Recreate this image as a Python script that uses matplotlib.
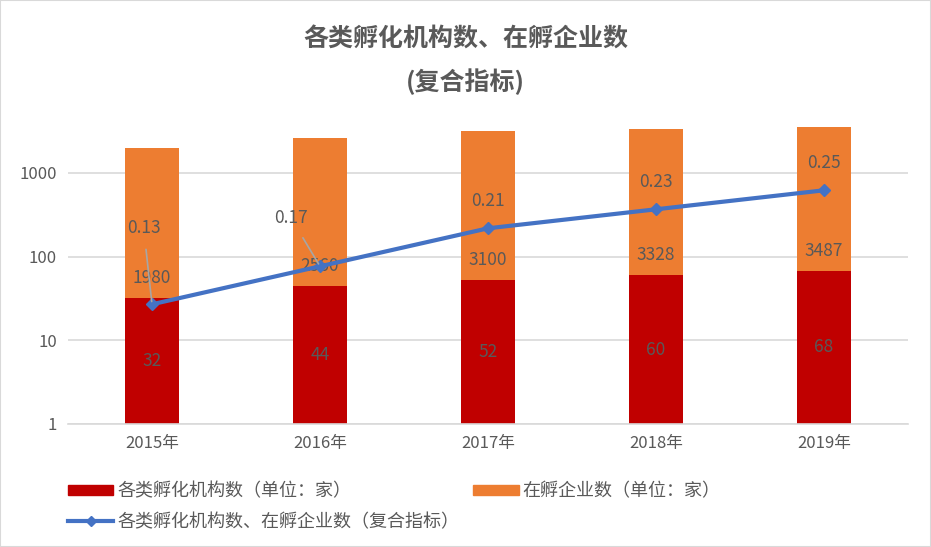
import matplotlib
matplotlib.use("Agg")
import matplotlib.pyplot as plt
import numpy as np
from matplotlib.patches import Rectangle
from matplotlib.lines import Line2D

plt.rcParams["font.family"] = ["Noto Sans CJK SC", "DejaVu Sans"]

years = ["2015年", "2016年", "2017年", "2018年", "2019年"]
institutions = [32, 44, 52, 60, 68]
enterprises = [1980, 2560, 3100, 3328, 3487]
composite = [0.13, 0.17, 0.21, 0.23, 0.25]

RED = "#C00000"
ORANGE = "#ED7D31"
BLUE = "#4472C4"
GRAY = "#595959"

fig = plt.figure(figsize=(9.31, 5.47), dpi=100)
fig.patches.append(Rectangle((0, 0), 1, 1, transform=fig.transFigure,
                             fill=False, edgecolor="#D9D9D9", linewidth=1.5))

ax = fig.add_axes([68 / 931, 1 - 424 / 547, 840 / 931, 332.5 / 547])
x = np.arange(len(years))

ax.bar(x, institutions, width=0.32, bottom=0, color=RED, zorder=2)
ax.bar(x, enterprises, width=0.32, bottom=institutions, color=ORANGE, zorder=2)
ax.set_yscale("log")
ax.set_ylim(1, 9400)
ax.set_xlim(-0.5, len(years) - 0.5)
ax.set_yticks([1, 10, 100, 1000])
ax.set_yticklabels(["1", "10", "100", "1000"])
ax.minorticks_off()
ax.set_xticks(x)
ax.set_xticklabels(years)
ax.tick_params(length=0, labelsize=12, labelcolor=GRAY, pad=8)
ax.grid(axis="y", color="#D9D9D9", linewidth=1.2, zorder=0)
for s in ["top", "left", "right"]:
    ax.spines[s].set_visible(False)
ax.spines["bottom"].set_color("#D9D9D9")
ax.spines["bottom"].set_linewidth(1.2)

for i in range(len(years)):
    ax.text(x[i], np.sqrt(institutions[i]), str(institutions[i]),
            ha="center", va="center", fontsize=12.5, color=GRAY, zorder=3)
    ax.annotate(str(enterprises[i]), (x[i], institutions[i]),
                xytext=(0, 14.5), textcoords="offset points",
                ha="center", va="center", fontsize=12.5, color=GRAY, zorder=3)

ax2 = ax.twinx()
ax2.set_ylim(0.004, 0.354)
ax2.axis("off")
ax2.plot(x, composite, color=BLUE, linewidth=3, marker="D", markersize=6, zorder=4)

offsets = [(-6, 55), (-21, 35), (0, 20), (0, 20), (0, 20)]
for i in range(len(years)):
    arrow = None
    if i < 2:
        arrow = dict(arrowstyle="-", color="#A6A6A6", linewidth=1.2,
                     shrinkA=7, shrinkB=2)
    ax2.annotate(f"{composite[i]:.2f}", (x[i], composite[i]),
                 xytext=offsets[i], textcoords="offset points",
                 ha="center", va="center", fontsize=12.5, color=GRAY,
                 arrowprops=arrow, zorder=5)

fig.text(0.5, 1 - 40 / 547, "各类孵化机构数、在孵企业数", ha="center", va="center",
         fontsize=18, fontweight="bold", color=GRAY)
fig.text(0.5, 1 - 82 / 547, "(复合指标)", ha="center", va="center",
         fontsize=18, fontweight="bold", color=GRAY)

handles = [
    Rectangle((0, 0), 1, 1, color=RED),
    Line2D([], [], color=BLUE, linewidth=3, marker="D", markersize=5),
    Rectangle((0, 0), 1, 1, color=ORANGE),
]
labels = ["各类孵化机构数（单位：家）", "各类孵化机构数、在孵企业数（复合指标）",
          "在孵企业数（单位：家）"]
fig.legend(handles, labels, ncol=2, loc="upper left",
           bbox_to_anchor=(52 / 931, 1 - 466 / 547), frameon=False,
           fontsize=13, labelcolor=GRAY, handlelength=2.5, handleheight=0.5,
           handletextpad=0.2, columnspacing=0.8, labelspacing=0.7)

fig.savefig("out.png", dpi=100)
